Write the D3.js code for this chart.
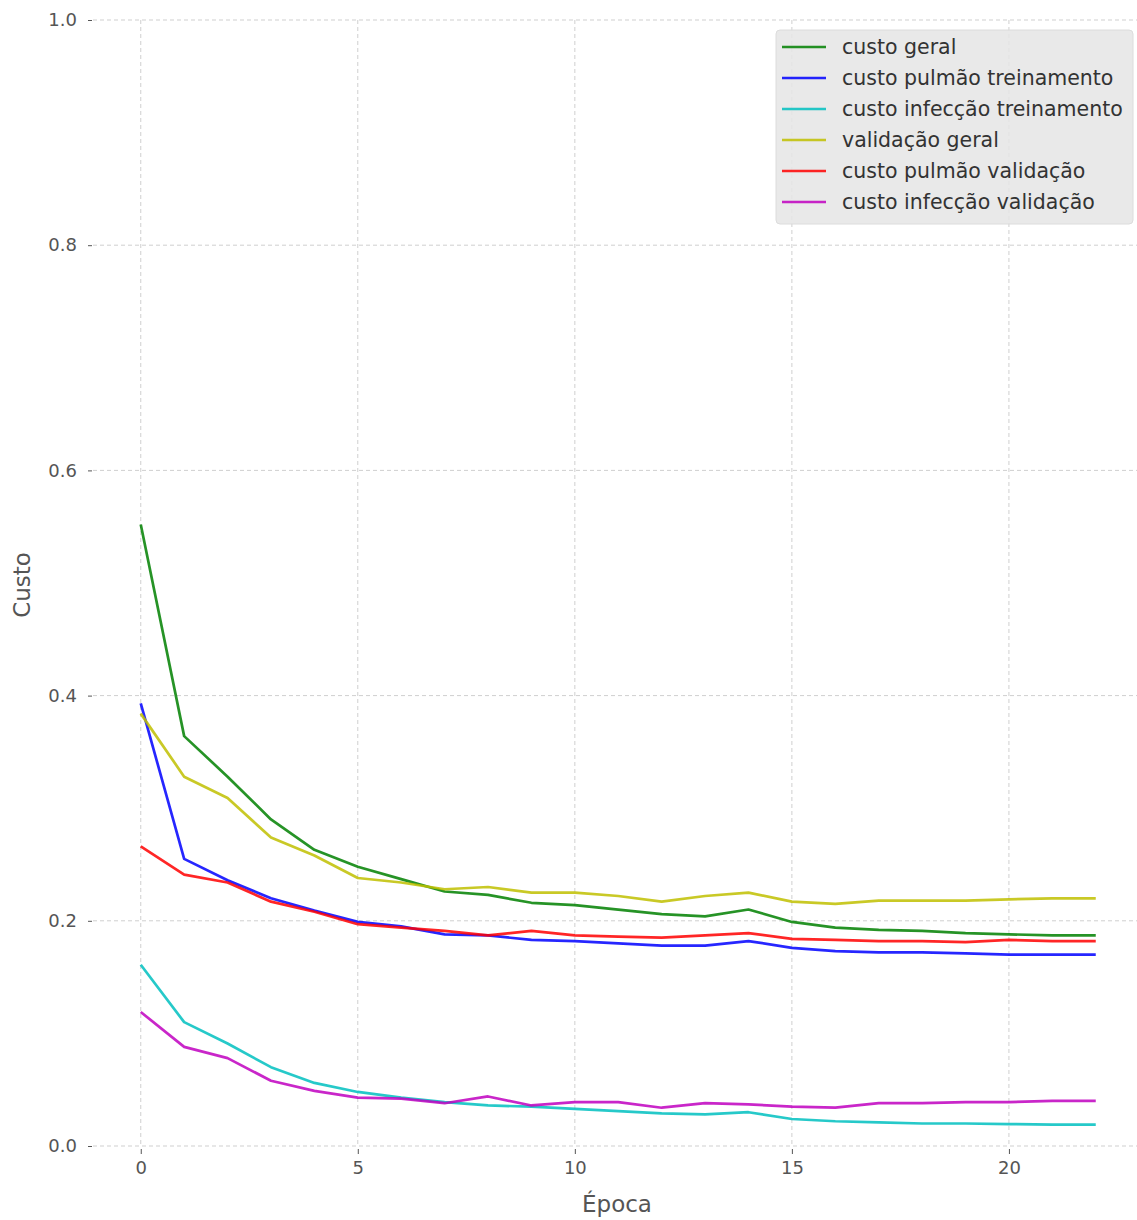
<!DOCTYPE html>
<html>
<head>
<meta charset="utf-8">
<script src="https://cdn.jsdelivr.net/npm/d3@7"></script>
<style>
body{margin:0;background:#fff;}
svg text{font-family:"DejaVu Sans",sans-serif;}
</style>
</head>
<body>
<svg id="chart" width="1137" height="1220"></svg>
<script>
var epochs = d3.range(0, 23);

var custoGeral = [0.552,0.364,0.328,0.290,0.263,0.248,0.237,0.226,0.223,0.216,0.214,0.210,0.206,0.204,0.210,0.199,0.194,0.192,0.191,0.189,0.188,0.187,0.187];
var pulmaoTrein = [0.393,0.255,0.236,0.220,0.209,0.199,0.195,0.188,0.187,0.183,0.182,0.180,0.178,0.178,0.182,0.176,0.173,0.172,0.172,0.171,0.170,0.170,0.170];
var infeccaoTrein = [0.161,0.110,0.091,0.070,0.056,0.048,0.043,0.039,0.036,0.035,0.033,0.031,0.029,0.028,0.030,0.024,0.022,0.021,0.020,0.020,0.0195,0.019,0.019];
var validGeral = [0.384,0.328,0.309,0.274,0.258,0.238,0.234,0.228,0.230,0.225,0.225,0.222,0.217,0.222,0.225,0.217,0.215,0.218,0.218,0.218,0.219,0.220,0.220];
var pulmaoValid = [0.266,0.241,0.234,0.217,0.208,0.197,0.194,0.191,0.187,0.191,0.187,0.186,0.185,0.187,0.189,0.184,0.183,0.182,0.182,0.181,0.183,0.182,0.182];
var infeccaoValid = [0.119,0.088,0.078,0.058,0.049,0.043,0.042,0.038,0.044,0.036,0.039,0.039,0.034,0.038,0.037,0.035,0.034,0.038,0.038,0.039,0.039,0.040,0.040];

var seriesNames = ["custo geral","custo pulmão treinamento","custo infecção treinamento","validação geral","custo pulmão validação","custo infecção validação"];
var seriesColors = ["#008000","#0000ff","#00bfbf","#bfbf00","#ff0000","#bf00bf"];
var seriesValues = [custoGeral,pulmaoTrein,infeccaoTrein,validGeral,pulmaoValid,infeccaoValid];

var xTicks = [0,5,10,15,20];
var yTicks = [0,0.2,0.4,0.6,0.8,1.0];

var svg = d3.select("#chart");
var plotLeft = 93, plotRight = 1143.5, plotTop = 20, plotBottom = 1146;

var x = d3.scaleLinear().domain([-1.1, 23.1]).range([plotLeft, plotRight]);
var y = d3.scaleLinear().domain([0, 1]).range([plotBottom, plotTop]);

// grid
var grid = svg.append("g");
grid.selectAll(".gx").data(xTicks).enter().append("line")
    .attr("x1", function(d){return x(d);}).attr("x2", function(d){return x(d);})
    .attr("y1", plotTop).attr("y2", plotBottom)
    .attr("stroke", "#cfcfcf").attr("stroke-width", 1).attr("stroke-dasharray", "4,3");
grid.selectAll(".gy").data(yTicks).enter().append("line")
    .attr("x1", plotLeft).attr("x2", plotRight)
    .attr("y1", function(d){return y(d);}).attr("y2", function(d){return y(d);})
    .attr("stroke", "#cfcfcf").attr("stroke-width", 1).attr("stroke-dasharray", "4,3");

// axes
var xAxis = d3.axisBottom(x).tickValues(xTicks).tickSize(5).tickPadding(7).tickFormat(d3.format("d"));
var yAxis = d3.axisLeft(y).tickValues(yTicks).tickSize(4).tickPadding(11).tickFormat(d3.format(".1f"));

var gx = svg.append("g").attr("transform", "translate(0," + (plotBottom + 3) + ")").call(xAxis);
var gy = svg.append("g").attr("transform", "translate(" + (plotLeft - 1) + ",0)").call(yAxis);
[gx, gy].forEach(function(g){
    g.select(".domain").remove();
    g.selectAll(".tick line").attr("stroke", "#555");
    g.selectAll(".tick text").attr("fill", "#555").style("font-size", "18px");
});

// lines
var line = d3.line()
    .x(function(d, i){return x(epochs[i]);})
    .y(function(d){return y(d);});

seriesValues.forEach(function(vals, k){
    svg.append("path")
        .datum(vals)
        .attr("d", line)
        .attr("fill", "none")
        .attr("stroke", seriesColors[k])
        .attr("stroke-opacity", 0.85)
        .attr("stroke-width", 2.7)
        .attr("stroke-linejoin", "round");
});

// axis labels
svg.append("text").attr("x", 617).attr("y", 1212)
    .attr("text-anchor", "middle").attr("fill", "#555").style("font-size", "23px").text("Época");
svg.append("text").attr("transform", "translate(30,585) rotate(-90)")
    .attr("text-anchor", "middle").attr("fill", "#555").style("font-size", "23px").text("Custo");

// legend
var legend = svg.append("g").attr("transform", "translate(776,30)");
legend.append("rect").attr("width", 357).attr("height", 194).attr("rx", 4)
    .attr("fill", "#e5e5e5").attr("fill-opacity", 0.85).attr("stroke", "#dcdcdc");
seriesNames.forEach(function(name, k){
    var ly = 17 + k * 31;
    legend.append("line").attr("x1", 6).attr("x2", 50).attr("y1", ly).attr("y2", ly)
        .attr("stroke", seriesColors[k]).attr("stroke-opacity", 0.85).attr("stroke-width", 2.7);
    legend.append("text").attr("x", 66).attr("y", ly + 7)
        .attr("fill", "#333").style("font-size", "20.5px").text(name);
});
</script>
</body>
</html>
